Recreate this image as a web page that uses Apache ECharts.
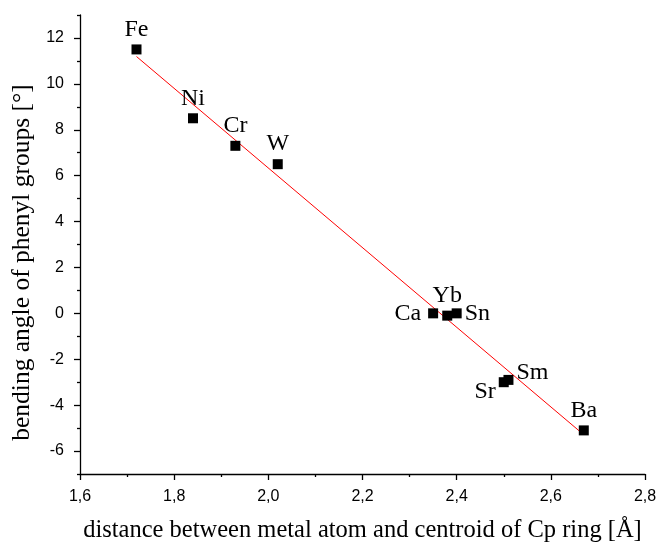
<!DOCTYPE html>
<html>
<head>
<meta charset="utf-8">
<script src="https://cdn.jsdelivr.net/npm/echarts@6/dist/echarts.min.js"></script>
<style>html,body{margin:0;padding:0;background:#fff}#c{width:661px;height:545px}</style>
</head>
<body>
<div id="c"></div>
<script>
const metals = ['Fe','Ni','Cr','W','Ca','Yb','Sn','Sr','Sm','Ba'];
const distances = [1.72, 1.84, 1.93, 2.02, 2.35, 2.38, 2.40, 2.50, 2.51, 2.67];
const angles = [11.5, 8.5, 7.3, 6.5, 0.0, -0.1, 0.0, -3.0, -2.9, -5.1];
const fitX = [1.72, 2.67];
const fitY = [11.19, -5.29];
const xTicks = [1.6, 1.8, 2.0, 2.2, 2.4, 2.6, 2.8];
const yMajorTicks = [-6, -4, -2, 0, 2, 4, 6, 8, 10, 12];
const yMinorTicks = [-7, -5, -3, -1, 1, 3, 5, 7, 9, 11, 13];

const labelStyle = {
  Fe: {position: 'top'}, Ni: {position: 'top'}, Cr: {position: 'top'}, W: {position: 'top'},
  Ca: {position: 'left', distance: 7}, Yb: {position: 'top'}, Sn: {position: 'right', distance: 3},
  Sr: {position: 'left', offset: [0, 10]}, Sm: {position: 'right', offset: [0, -7], distance: 3},
  Ba: {position: 'top'}
};

const pts = metals.map((m, i) => ({
  name: m, value: [distances[i], angles[i]], label: labelStyle[m]
}));

const chart = echarts.init(document.getElementById('c'));
const serif = "'Liberation Serif', 'DejaVu Serif', serif";
const sans = "'Liberation Sans', Arial, sans-serif";
chart.setOption({
  animation: false,
  grid: {left: 80, right: 16, top: 15, bottom: 71, containLabel: false, outerBoundsMode: 'none'},
  xAxis: {
    type: 'value', min: 1.6, max: 2.8, interval: 0.2,
    name: 'distance between metal atom and centroid of Cp ring [Å]',
    nameLocation: 'middle', nameGap: 44,
    nameTextStyle: {fontFamily: serif, fontSize: 24.5, color: '#000'},
    axisLine: {show: true, onZero: false, lineStyle: {color: '#000', width: 1.3}},
    axisTick: {show: true, length: 6, inside: false, lineStyle: {color: '#000', width: 1.3}},
    minorTick: {show: true, splitNumber: 2, length: 3, lineStyle: {color: '#000', width: 1.3}},
    splitLine: {show: false},
    axisLabel: {fontFamily: sans, fontSize: 16, color: '#000', margin: 15,
      formatter: v => v.toFixed(1).replace('.', ',')}
  },
  yAxis: [{
    type: 'value', min: -7, max: 13,
    name: 'bending angle of phenyl groups [°]',
    nameLocation: 'middle', nameGap: 41,
    nameTextStyle: {fontFamily: serif, fontSize: 25.5, color: '#000', padding: [0, 36, 0, 0]},
    axisLine: {show: true, onZero: false, lineStyle: {color: '#000', width: 1.3}},
    axisTick: {show: true, length: 6, customValues: yMajorTicks, lineStyle: {color: '#000', width: 1.3}},
    splitLine: {show: false},
    axisLabel: {fontFamily: sans, fontSize: 16, color: '#000', margin: 16, customValues: yMajorTicks}
  }, {
    type: 'value', min: -7, max: 13, position: 'left', offset: 0,
    axisLine: {show: false, onZero: false},
    axisTick: {show: true, length: 3, customValues: yMinorTicks, lineStyle: {color: '#000', width: 1.3}},
    splitLine: {show: false},
    axisLabel: {show: false}
  }],
  series: [{
    type: 'line', yAxisIndex: 0,
    data: fitX.map((x, i) => [x, fitY[i]]),
    showSymbol: false, symbol: 'none',
    lineStyle: {color: '#ff0000', width: 1}, z: 2, silent: true
  }, {
    type: 'scatter', yAxisIndex: 0,
    data: pts, symbol: 'rect', symbolSize: 10,
    itemStyle: {color: '#000', opacity: 1}, z: 3,
    label: {show: true, formatter: '{b}', fontFamily: serif, fontSize: 24, color: '#000', distance: 3}
  }]
});
</script>
</body>
</html>
